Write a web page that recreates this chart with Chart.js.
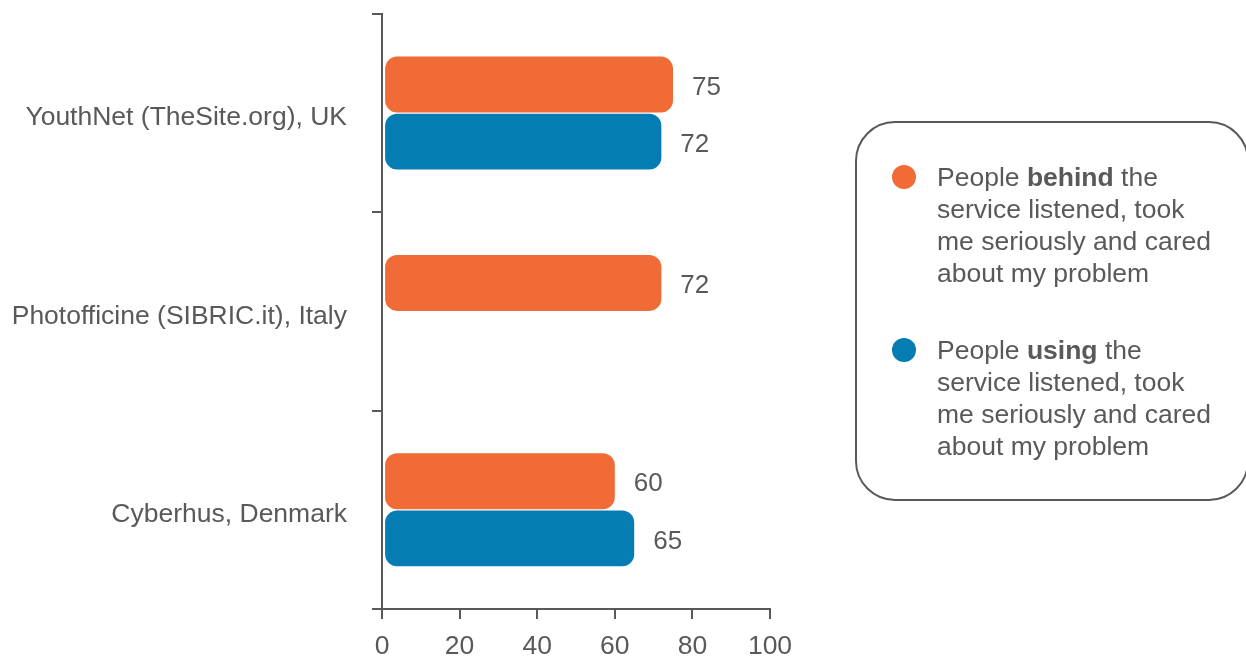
<!DOCTYPE html>
<html>
<head>
<meta charset="utf-8">
<script src="https://cdn.jsdelivr.net/npm/chart.js@4"></script>
<style>
  body { margin: 0; background: #fff; overflow: hidden; }
  #wrap { position: relative; width: 1246px; height: 657px; overflow: hidden; }
  #chart { position: absolute; left: 0; top: -27px; }
  #legend {
    position: absolute; left: 855px; top: 121px; width: 394px; height: 380px;
    border: 2px solid #595959; border-radius: 40px; box-sizing: border-box;
    font-family: "Liberation Sans", Arial, sans-serif; font-size: 26.5px; color: #595959;
  }
  .item { position: absolute; left: 80px; line-height: 32px; white-space: nowrap; }
  .dot { position: absolute; left: -45px; top: 4px; width: 24px; height: 24px; border-radius: 50%; }
</style>
</head>
<body>
<div id="wrap">
  <canvas id="chart" width="1246" height="684"></canvas>
  <div id="legend"></div>
</div>
<script>
// categories and series
const categories = ["YouthNet (TheSite.org), UK", "Photofficine (SIBRIC.it), Italy", "Cyberhus, Denmark"];
const behindValues = [75, 72, 60];
const usingValues = [72, null, 65];
const xTicks = [0, 20, 40, 60, 80, 100];

// legend text: before bold, bold word, rest, then the wrapped lines
const behindLegend = ["People ", "behind", " the", "service listened, took", "me seriously and cared", "about my problem"];
const usingLegend = ["People ", "using", " the", "service listened, took", "me seriously and cared", "about my problem"];

const orange = "#F16B37";
const blue = "#057CB2";
const grey = "#595959";
const font = { family: "'Liberation Sans', Arial, sans-serif", size: 26.5 };

// draws the value next to each bar
const valueLabels = {
    id: "valueLabels",
    afterDatasetsDraw(chart) {
        const ctx = chart.ctx;
        ctx.save();
        ctx.font = "26px 'Liberation Sans', Arial, sans-serif";
        ctx.fillStyle = grey;
        ctx.textAlign = "left";
        ctx.textBaseline = "middle";
        chart.data.datasets.forEach((ds, i) => {
            chart.getDatasetMeta(i).data.forEach((bar, j) => {
                if (ds.data[j] == null) return;
                ctx.fillText(ds.data[j], bar.x + 19, bar.y + 3);
            });
        });
        ctx.restore();
    }
};

new Chart(document.getElementById("chart"), {
    type: "bar",
    data: {
        labels: categories,
        datasets: [
            { label: "behind", data: behindValues, backgroundColor: orange },
            { label: "using", data: usingValues, backgroundColor: blue }
        ]
    },
    options: {
        indexAxis: "y",
        responsive: false,
        animation: false,
        categoryPercentage: 0.575,
        barPercentage: 0.98,
        borderRadius: 12,
        borderSkipped: false,
        base: 0.8, // small white gap between the axis line and the bars
        layout: { padding: { top: 14, right: 476, left: 0, bottom: 0 } },
        plugins: { legend: { display: false }, tooltip: { enabled: false } },
        scales: {
            x: {
                min: 0, max: 100,
                afterBuildTicks: s => { s.ticks = xTicks.map(v => ({ value: v })); },
                afterFit: s => { s.height = 48; },
                border: { color: grey, width: 2 },
                grid: { drawOnChartArea: false, color: grey, lineWidth: 2, tickLength: 10 },
                ticks: { color: grey, font: font, padding: 12 }
            },
            y: {
                afterFit: s => { s.width = 382; },
                border: { color: grey, width: 2 },
                grid: { drawOnChartArea: false, color: grey, lineWidth: 2, tickLength: 10, offset: true },
                ticks: { color: grey, font: font, padding: 25, labelOffset: 5 }
            }
        }
    },
    plugins: [valueLabels]
});

// legend box
function legendItem(parts, color, top) {
    const div = document.createElement("div");
    div.className = "item";
    div.style.top = top + "px";
    div.innerHTML = `<span class="dot" style="background:${color}"></span>` +
        `${parts[0]}<b>${parts[1]}</b>${parts[2]}<br>${parts[3]}<br>${parts[4]}<br>${parts[5]}`;
    document.getElementById("legend").appendChild(div);
}
legendItem(behindLegend, orange, 38);
legendItem(usingLegend, blue, 211);
</script>
</body>
</html>
